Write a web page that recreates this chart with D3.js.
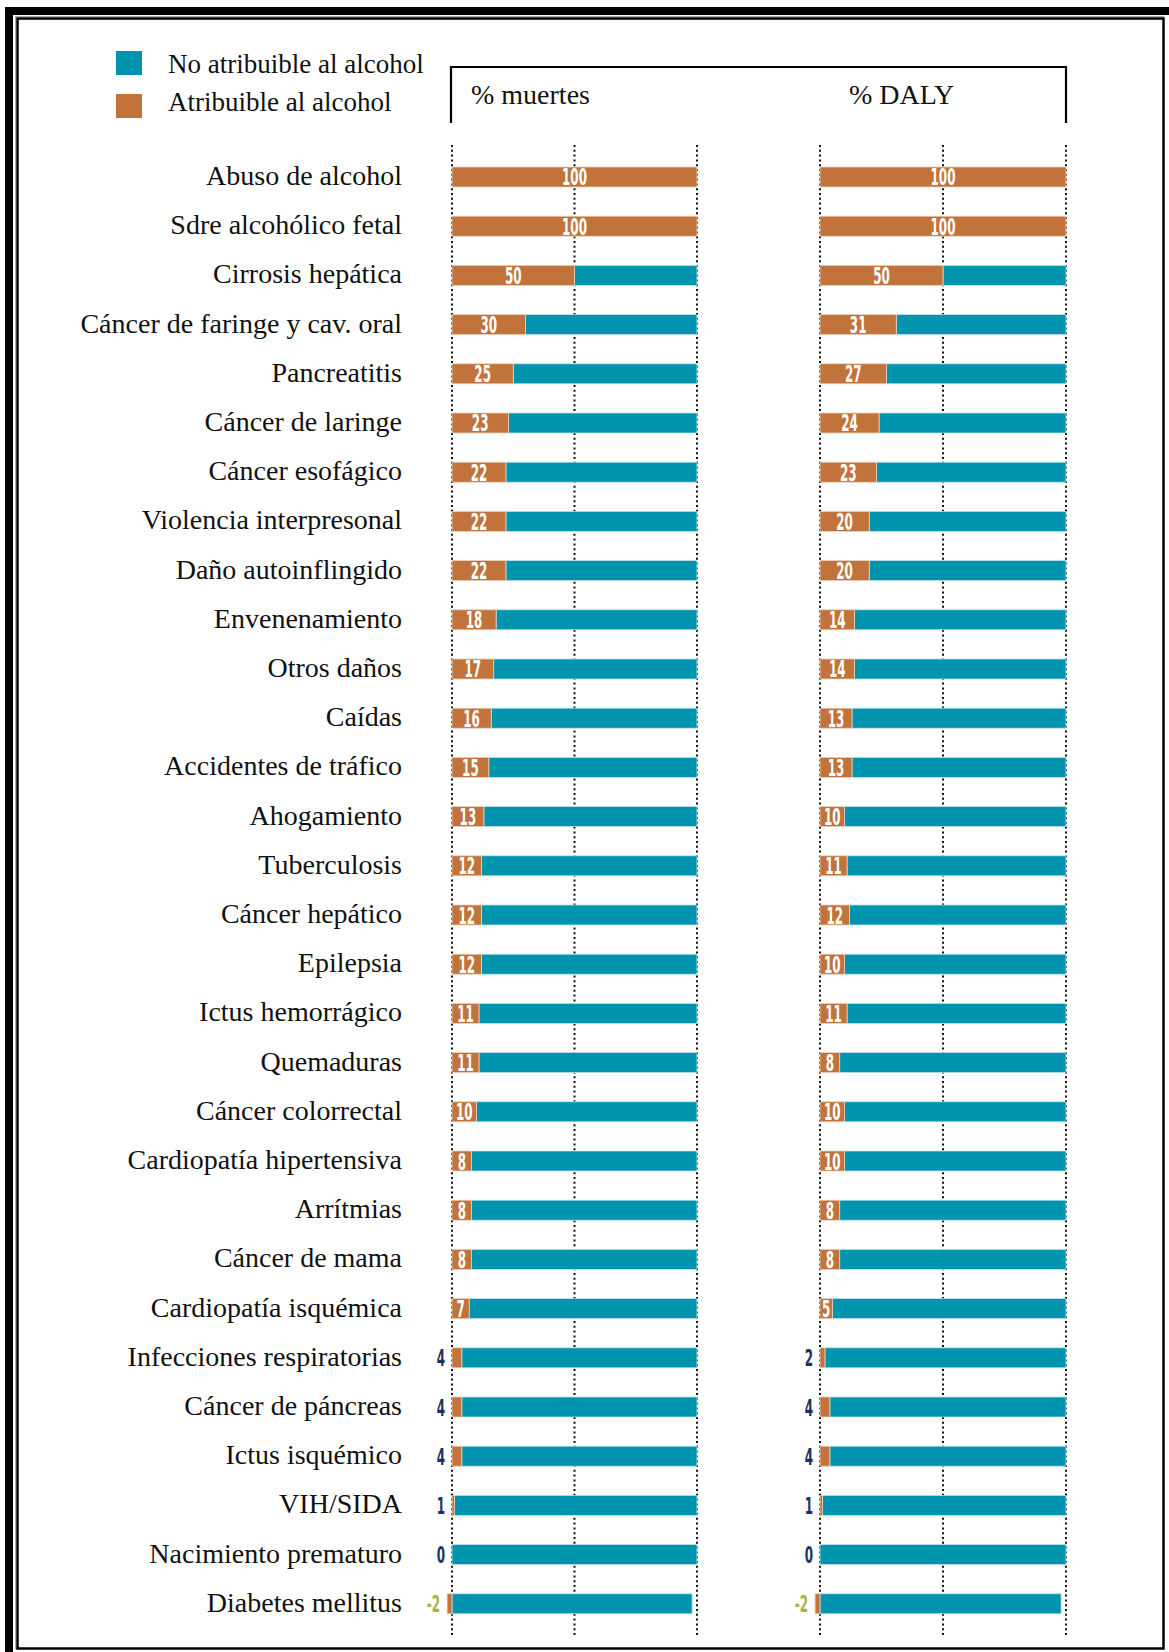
<!DOCTYPE html>
<html>
<head>
<meta charset="utf-8">
<script src="https://cdn.jsdelivr.net/npm/d3@7"></script>
<style>
  body { margin: 0; background: #fff; }
  svg { display: block; }
</style>
</head>
<body>
<div id="chart"></div>
<script>
const categories = [
    "Abuso de alcohol", "Sdre alcohólico fetal", "Cirrosis hepática",
    "Cáncer de faringe y cav. oral", "Pancreatitis", "Cáncer de laringe",
    "Cáncer esofágico", "Violencia interpresonal", "Daño autoinflingido",
    "Envenenamiento", "Otros daños", "Caídas", "Accidentes de tráfico",
    "Ahogamiento", "Tuberculosis", "Cáncer hepático", "Epilepsia",
    "Ictus hemorrágico", "Quemaduras", "Cáncer colorrectal",
    "Cardiopatía hipertensiva", "Arrítmias", "Cáncer de mama",
    "Cardiopatía isquémica", "Infecciones respiratorias", "Cáncer de páncreas",
    "Ictus isquémico", "VIH/SIDA", "Nacimiento prematuro", "Diabetes mellitus"
];

// % attributable to alcohol
const deathsPct = [100, 100, 50, 30, 25, 23, 22, 22, 22, 18, 17, 16, 15, 13, 12, 12, 12, 11, 11, 10, 8, 8, 8, 7, 4, 4, 4, 1, 0, -2];
const dalyPct   = [100, 100, 50, 31, 27, 24, 23, 20, 20, 14, 14, 13, 13, 10, 11, 12, 10, 11, 8, 10, 10, 8, 8, 5, 2, 4, 4, 1, 0, -2];

const panelTitles = ["% muertes", "% DALY"];
const legendLabels = ["No atribuible al alcohol", "Atribuible al alcohol"];
const gridTicks = [0, 50, 100];

const colors = { rest: "#0094AF", alcohol: "#C1733B" };

const width = 1169, height = 1652;

const svg = d3.select("#chart")
    .append("svg")
    .attr("width", width)
    .attr("height", height);

svg.append("rect").attr("width", width).attr("height", height).attr("fill", "#fff");

// Frame: heavy top/left bands plus thin inner box
svg.append("rect").attr("x", 5).attr("y", 7).attr("width", width - 5).attr("height", 8).attr("fill", "#000");
svg.append("rect").attr("x", 5).attr("y", 7).attr("width", 8).attr("height", height - 7).attr("fill", "#000");
svg.append("rect")
    .attr("x", 15.5).attr("y", 16.5)
    .attr("width", 1148).attr("height", 1632)
    .attr("fill", "none").attr("stroke", "#aaa").attr("stroke-width", 1);
svg.append("rect")
    .attr("x", 17.5).attr("y", 18.5)
    .attr("width", 1146).attr("height", 1630)
    .attr("fill", "none").attr("stroke", "#000").attr("stroke-width", 2.5);

// Scales
const y = d3.scaleBand()
    .domain(categories)
    .range([167, 1613.8])
    .paddingInner(0.5935)
    .paddingOuter(0);

const panels = [
    { title: panelTitles[0], values: deathsPct, x: d3.scaleLinear().domain([0, 100]).range([452, 697]), titleX: 471 },
    { title: panelTitles[1], values: dalyPct,   x: d3.scaleLinear().domain([0, 100]).range([820, 1066]), titleX: 849 }
];

const serif = "'Liberation Serif', 'DejaVu Serif', serif";

// Legend
const legend = svg.append("g");
legendLabels.forEach((label, i) => {
    legend.append("rect")
        .attr("x", 116).attr("y", 51 + i * 43)
        .attr("width", 26).attr("height", 24)
        .attr("fill", i === 0 ? colors.rest : colors.alcohol);
    legend.append("text")
        .attr("x", 168).attr("y", 73 + i * 38)
        .attr("font-family", serif)
        .attr("font-size", 27)
        .attr("fill", "#111")
        .text(label);
});

// Header bracket
svg.append("path")
    .attr("d", `M${panels[0].x(0) - 1},123 V67 H${panels[1].x(100)} V123`)
    .attr("fill", "none")
    .attr("stroke", "#000")
    .attr("stroke-width", 2.2);

panels.forEach(p => {
    svg.append("text")
        .attr("x", p.titleX).attr("y", 104)
        .attr("font-family", serif)
        .attr("font-size", 28)
        .attr("fill", "#111")
        .text(p.title);
});

// Category labels
svg.append("g")
    .selectAll("text")
    .data(categories)
    .join("text")
    .attr("x", 402)
    .attr("y", d => y(d) + y.bandwidth() / 2 + 8)
    .attr("text-anchor", "end")
    .attr("font-family", serif)
    .attr("font-size", 28)
    .attr("fill", "#111")
    .text(d => d);

const labelFont = "'DejaVu Sans', 'Liberation Sans', sans-serif";

panels.forEach(p => {
    const g = svg.append("g");
    const rows = categories.map((c, i) => ({ name: c, v: p.values[i] }));

    // dotted grid, behind bars
    g.selectAll(".grid")
        .data(gridTicks)
        .join("line")
        .attr("class", "grid")
        .attr("x1", d => p.x(d)).attr("x2", d => p.x(d))
        .attr("y1", 145).attr("y2", 1635)
        .attr("stroke", "#111")
        .attr("stroke-width", 2)
        .attr("stroke-dasharray", "2,2.8");

    // non-attributable part
    g.selectAll(".rest")
        .data(rows)
        .join("rect")
        .attr("class", "rest")
        .attr("x", d => p.x(Math.max(d.v, 0)))
        .attr("y", d => y(d.name))
        .attr("width", d => p.x(100 + Math.min(d.v, 0)) - p.x(Math.max(d.v, 0)))
        .attr("height", y.bandwidth())
        .attr("fill", colors.rest)
        .attr("stroke", "#bfe0e8")
        .attr("stroke-width", 0.8);

    // attributable part
    g.selectAll(".alc")
        .data(rows.filter(d => d.v !== 0))
        .join("rect")
        .attr("class", "alc")
        .attr("x", d => p.x(Math.min(d.v, 0)))
        .attr("y", d => y(d.name))
        .attr("width", d => Math.abs(p.x(d.v) - p.x(0)))
        .attr("height", y.bandwidth())
        .attr("fill", colors.alcohol)
        .attr("stroke", "#ecd0bd")
        .attr("stroke-width", 0.8);

    // value labels
    g.selectAll(".val")
        .data(rows)
        .join("text")
        .attr("class", "val")
        .attr("transform", d => {
            const cy = y(d.name) + y.bandwidth() / 2 + 8.5;
            const cx = d.v >= 5 ? p.x(d.v / 2) : p.x(Math.min(d.v, 0)) - 7;
            return `translate(${cx},${cy}) scale(0.52,1)`;
        })
        .attr("text-anchor", d => d.v >= 5 ? "middle" : "end")
        .attr("font-family", labelFont)
        .attr("font-weight", "bold")
        .attr("font-size", 23)
        .attr("fill", d => d.v >= 5 ? "#fff" : (d.v < 0 ? "#A8B24A" : "#22305e"))
        .text(d => d.v);
});
</script>
</body>
</html>
